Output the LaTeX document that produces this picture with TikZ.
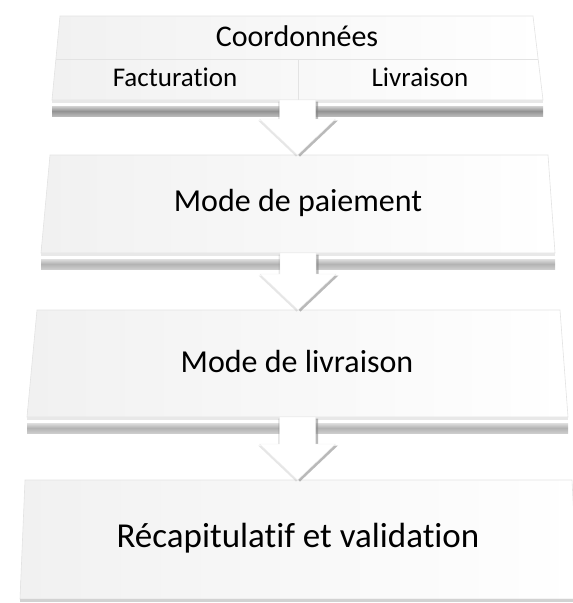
\documentclass[tikz,border=0pt]{standalone}
\usepackage{fontspec}
\setmainfont{Carlito}[Ligatures={NoCommon,NoRequired,NoContextual}]
\usetikzlibrary{shadows,calc}

\tikzset{
  etape/.style={draw=gray!22, line width=0.6pt, left color=gray!11, right color=white},
  bande/.style={top color=gray!35, bottom color=gray!55, middle color=gray!85},
  bandeclaire/.style={top color=gray!25, bottom color=gray!40, middle color=gray!60},
  fleche/.style={fill=white, draw=gray!15, line width=0.4pt,
    drop shadow={shadow xshift=2.5pt, shadow yshift=-1.5pt, opacity=0.55},
    drop shadow={shadow xshift=-1.5pt, shadow yshift=-1.5pt, opacity=0.2}},
}

% etape : nom, haut, bas, x haut gauche, x haut droite, x bas gauche, x bas droite
\newcommand\etape[7]{%
  \coordinate (#1-hg) at (#4,#2); \coordinate (#1-hd) at (#5,#2);
  \coordinate (#1-bg) at (#6,#3); \coordinate (#1-bd) at (#7,#3);
  \path[etape] (#1-hg) -- (#1-hd) -- (#1-bd) -- (#1-bg) -- cycle;
  \coordinate (#1-n) at ($(#1-hg)!0.5!(#1-hd)$);
  \coordinate (#1-s) at ($(#1-bg)!0.5!(#1-bd)$);}

% face du dessous et ombre
\newcommand\socle[2]{%
  \fill[gray!18] (#1-bg) rectangle ($(#1-bd)+(0,3)$);
  \fill[#2] ($(#1-bg)+(0,6)$) rectangle ($(#1-bd)+(0,16)$);}

% fleche d'une etape vers la suivante
\newcommand\fleche[2]{%
  \coordinate (pointe) at (#1-s |- #2-n);
  \path[fleche] ($(#1-s)+(-18,0)$) -- ($(#1-s)+(18,0)$)
    -- ($(pointe)+(18,-36)$) -- ($(pointe)+(38,-36)$) -- (pointe)
    -- ($(pointe)+(-38,-36)$) -- ($(pointe)+(-18,-36)$) -- cycle;}

\begin{document}
\begin{tikzpicture}[x=1pt,y=-1pt]
  \useasboundingbox (0,0) rectangle (573,603);

  \etape{coord}{16}{100}{60}{533}{52}{543}
  \etape{paie}{155}{253}{50}{548}{41}{555}
  \etape{livr}{310}{417}{37}{560}{27}{568}
  \etape{recap}{480}{599}{25}{572}{20}{578}

  % cases de la premiere etape
  \coordinate (g) at ($(coord-hg)!0.51!(coord-bg)$);
  \coordinate (d) at ($(coord-hd)!0.51!(coord-bd)$);
  \coordinate (m) at (298,59);
  \draw[gray!22, line width=0.6pt] (g) -- (d);
  \draw[gray!22, line width=0.6pt] (m) -- (m |- coord-s);
  \node (titre) at (297,36) {\fontsize{30}{34}\selectfont Coordonnées};
  \node (fact) at (175,77) {\fontsize{27}{31}\selectfont Facturation};
  \node (livraison) at (420,77) {\fontsize{27}{31}\selectfont Livraison};

  \node (paiement) at (298,203) {\fontsize{32}{36}\selectfont Mode de paiement};
  \node (livrmode) at (297,362) {\fontsize{32}{36}\selectfont Mode de livraison};
  \node (valid) at (298,538) {\fontsize{35}{40}\selectfont Récapitulatif et validation};

  \socle{coord}{bande}
  \socle{paie}{bandeclaire}
  \socle{livr}{bandeclaire}
  \fill[gray!35] (recap-bg) rectangle ($(recap-bd)+(0,3)$);

  \fleche{coord}{paie}
  \fleche{paie}{livr}
  \fleche{livr}{recap}
\end{tikzpicture}
\end{document}
